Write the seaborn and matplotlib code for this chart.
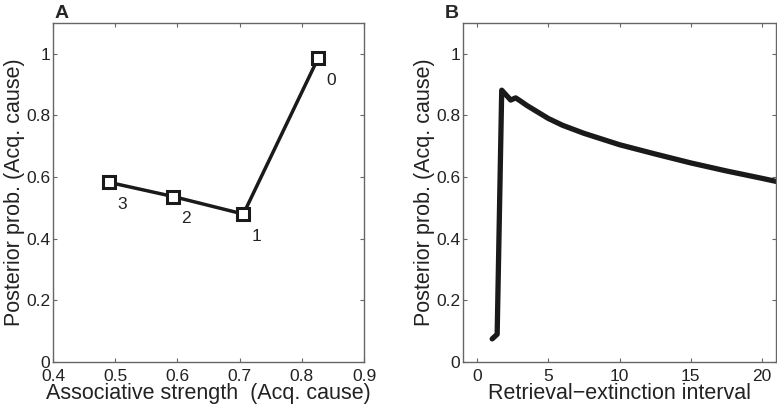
import matplotlib
matplotlib.use("Agg")
import matplotlib.pyplot as plt
import pandas as pd
import seaborn as sns

# Panel A: associative strength vs posterior probability
assoc_strength = [0.490, 0.593, 0.706, 0.826]
posterior_a = [0.583, 0.537, 0.480, 0.985]
point_labels = ["3", "2", "1", "0"]

# Panel B: retrieval-extinction interval vs posterior probability
interval = [1.05, 1.40, 1.72, 2.35, 2.70, 3.0, 3.5, 4.0, 5.0, 6.0, 7.5, 10.0, 12.5, 15.0, 17.5, 20.0, 21.0]
posterior_b = [0.075, 0.090, 0.882, 0.850, 0.857, 0.848, 0.832, 0.818, 0.790, 0.768, 0.742, 0.705,
               0.675, 0.646, 0.620, 0.596, 0.586]

sns.set_style("ticks")
plt.rcParams["font.family"] = ["Liberation Sans", "DejaVu Sans"]
plt.rcParams.update({
    "xtick.direction": "in", "ytick.direction": "in",
    "xtick.top": True, "ytick.right": True,
    "xtick.color": "#666666", "ytick.color": "#666666",
    "xtick.labelcolor": "#222222", "ytick.labelcolor": "#222222",
    "axes.edgecolor": "#666666", "axes.linewidth": 1.0,
    "xtick.major.size": 3, "ytick.major.size": 3,
})

fig = plt.figure(figsize=(7.77, 4.09), dpi=100)
ax_a = fig.add_axes([0.0682, 0.1149, 0.4003, 0.8289])
ax_b = fig.add_axes([0.5959, 0.1149, 0.4029, 0.8289])

df_a = pd.DataFrame({"x": assoc_strength, "y": posterior_a})
sns.lineplot(data=df_a, x="x", y="y", ax=ax_a, color="#1a1a1a", linewidth=2.5,
             marker="s", markersize=9, markerfacecolor="white",
             markeredgecolor="#1a1a1a", markeredgewidth=2.2, sort=False)
for xv, yv, lab in zip(assoc_strength, posterior_a, point_labels):
    ax_a.annotate(lab, (xv, yv), xytext=(6, -16), textcoords="offset points",
                  ha="left", va="center", fontsize=12.5, color="#222222")
ax_a.set_xlim(0.4, 0.9)
ax_a.set_ylim(0, 1.1)
ax_a.set_xticks([0.4, 0.5, 0.6, 0.7, 0.8, 0.9])
ax_a.set_xticklabels(["0.4", "0.5", "0.6", "0.7", "0.8", "0.9"])
ax_a.set_yticks([0, 0.2, 0.4, 0.6, 0.8, 1.0])
ax_a.set_yticklabels(["0", "0.2", "0.4", "0.6", "0.8", "1"])
ax_a.set_xlabel("Associative strength  (Acq. cause)", fontsize=15.5, labelpad=-1, color="#222222")
ax_a.set_ylabel("Posterior prob. (Acq. cause)", fontsize=15.5, labelpad=1, color="#222222")

df_b = pd.DataFrame({"x": interval, "y": posterior_b})
sns.lineplot(data=df_b, x="x", y="y", ax=ax_b, color="#1a1a1a", linewidth=3.8, sort=False)
ax_b.set_xlim(-1, 21)
ax_b.set_ylim(0, 1.1)
ax_b.set_xticks([0, 5, 10, 15, 20])
ax_b.set_yticks([0, 0.2, 0.4, 0.6, 0.8, 1.0])
ax_b.set_yticklabels(["0", "0.2", "0.4", "0.6", "0.8", "1"])
ax_b.set_xlabel("Retrieval\u2212extinction interval", fontsize=15.5, labelpad=-1, color="#222222")
ax_b.set_ylabel("Posterior prob. (Acq. cause)", fontsize=15.5, labelpad=1, color="#222222")

for ax in (ax_a, ax_b):
    ax.tick_params(axis="y", labelsize=12.5, pad=2)
    ax.tick_params(axis="x", labelsize=12.5, pad=5)
    for s in ax.spines.values():
        s.set_visible(True)

fig.text(0.070, 0.968, "A", fontsize=14, fontweight="bold", va="center")
fig.text(0.573, 0.968, "B", fontsize=14, fontweight="bold", va="center")

fig.savefig("out.png", dpi=100)
